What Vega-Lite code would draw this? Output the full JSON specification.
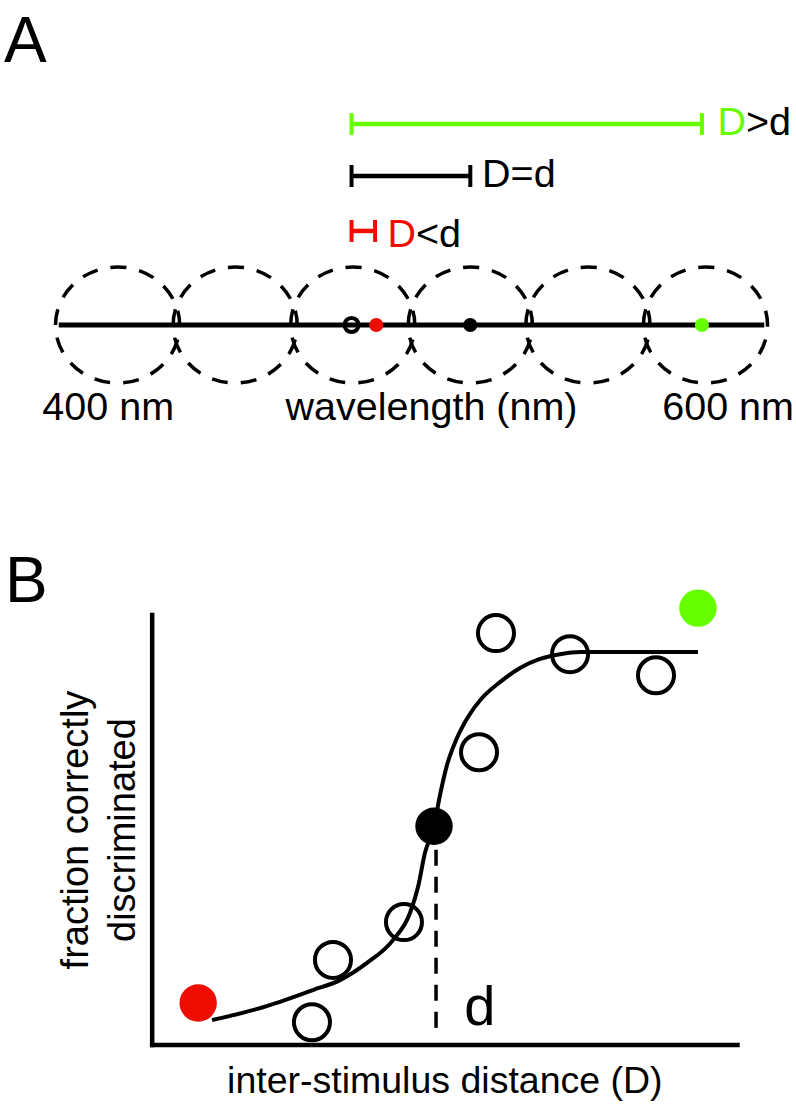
{
  "$schema": "https://vega.github.io/schema/vega-lite/v6.json",
  "padding": 0,
  "spacing": 0,
  "background": "white",
  "config": {"view": {"stroke": null}, "axis": {"disable": true}, "font": "Liberation Sans"},
  "datasets": {
    "aCircles": [{"u": 1, "v": 0}, {"u": 2, "v": 0}, {"u": 3, "v": 0}, {"u": 4, "v": 0}, {"u": 5, "v": 0}, {"u": 6, "v": 0}],
    "aAxis": [{"u1": 0.5, "u2": 6.5, "v": 0}],
    "aBars": [
      {"grp": "green", "u1": 2.99, "u2": 5.97, "v": 1.709},
      {"grp": "black", "u1": 2.99, "u2": 4.0, "v": 1.267},
      {"grp": "red", "u1": 2.99, "u2": 3.19, "v": 0.80}
    ],
    "aOpen": [{"u": 2.99, "v": 0}],
    "aDots": [{"grp": "red", "u": 3.2, "v": 0}, {"grp": "black", "u": 4.0, "v": 0}, {"grp": "green", "u": 5.97, "v": 0}],
    "aTextRight": [
      {"label": "D", "grp": "green", "u": 6.345, "v": 1.616},
      {"label": "D", "grp": "red", "u": 3.538, "v": 0.663},
      {"label": "600 nm", "grp": "black", "u": 6.753, "v": -0.808}
    ],
    "aTextLeft": [
      {"label": ">d", "u": 6.345, "v": 1.616},
      {"label": "D=d", "u": 4.1, "v": 1.174},
      {"label": "<d", "u": 3.538, "v": 0.663},
      {"label": "400 nm", "u": 0.36, "v": -0.808}
    ],
    "aTextCenter": [{"label": "wavelength (nm)", "u": 3.67, "v": -0.808}],
    "aTitle": [{"label": "A", "u": 0.034, "v": 2.237}],
    "bAxes": [{"x1": 0, "x2": 0, "y1": 0, "y2": 1}, {"x1": 0, "x2": 10, "y1": 0, "y2": 0}],
    "bCurve": [
      {"D": 1.022, "f": 0.058}, {"D": 1.893, "f": 0.088}, {"D": 2.747, "f": 0.128}, {"D": 3.209, "f": 0.151},
      {"D": 3.670, "f": 0.191}, {"D": 4.114, "f": 0.244}, {"D": 4.405, "f": 0.307}, {"D": 4.541, "f": 0.367},
      {"D": 4.661, "f": 0.447}, {"D": 4.815, "f": 0.509}, {"D": 4.917, "f": 0.581}, {"D": 5.037, "f": 0.651},
      {"D": 5.191, "f": 0.709}, {"D": 5.396, "f": 0.763}, {"D": 5.635, "f": 0.807}, {"D": 5.943, "f": 0.844},
      {"D": 6.285, "f": 0.877}, {"D": 6.627, "f": 0.898}, {"D": 6.968, "f": 0.909}, {"D": 7.310, "f": 0.914},
      {"D": 9.325, "f": 0.914}
    ],
    "bThreshold": [{"D": 4.85, "f1": 0.04, "f2": 0.47}],
    "bOpen": [
      {"D": 2.73, "f": 0.053}, {"D": 3.089, "f": 0.198}, {"D": 4.302, "f": 0.286}, {"D": 5.584, "f": 0.681},
      {"D": 5.874, "f": 0.958}, {"D": 7.139, "f": 0.909}, {"D": 8.608, "f": 0.860}
    ],
    "bDots": [{"grp": "red", "D": 0.786, "f": 0.098}, {"grp": "black", "D": 4.815, "f": 0.509}, {"grp": "green", "D": 9.325, "f": 1.016}],
    "bD": [{"label": "d", "D": 5.33, "f": 0.047}],
    "bTitle": [{"label": "B", "D": -2.515, "f": 1.03}],
    "bXTitle": [{"label": "inter-stimulus distance (D)", "D": 5.0, "f": -0.112}],
    "bYTitle": [{"label": "fraction correctly", "D": -1.097, "f": 0.5}, {"label": "discriminated", "D": -0.294, "f": 0.5}]
  },
  "vconcat": [
    {
      "width": 796,
      "height": 480,
      "layer": [
        {
          "data": {"name": "aCircles"},
          "mark": {"type": "point", "shape": "M -1.07 0 A 1.07 1 0 1 1 1.07 0 A 1.07 1 0 1 1 -1.07 0 Z", "filled": false, "size": 13456, "stroke": "black", "strokeWidth": 3.5, "strokeDash": [16, 13], "opacity": 1},
          "encoding": {
            "x": {"field": "u", "type": "quantitative", "scale": {"domain": [0, 6.77], "nice": false, "zero": false}},
            "y": {"field": "v", "type": "quantitative", "scale": {"domain": [-1.318, 2.764], "nice": false, "zero": false}}
          }
        },
        {
          "data": {"name": "aAxis"},
          "mark": {"type": "rule", "stroke": "black", "strokeWidth": 5},
          "encoding": {
            "x": {"field": "u1", "type": "quantitative", "scale": {"domain": [0, 6.77], "nice": false, "zero": false}},
            "x2": {"field": "u2"},
            "y": {"field": "v", "type": "quantitative", "scale": {"domain": [-1.318, 2.764], "nice": false, "zero": false}}
          }
        },
        {
          "data": {"name": "aBars"},
          "mark": {"type": "rule", "strokeWidth": 4.5},
          "encoding": {
            "x": {"field": "u1", "type": "quantitative", "scale": {"domain": [0, 6.77], "nice": false, "zero": false}},
            "x2": {"field": "u2"},
            "y": {"field": "v", "type": "quantitative", "scale": {"domain": [-1.318, 2.764], "nice": false, "zero": false}},
            "color": {"field": "grp", "type": "nominal", "scale": {"domain": ["black", "red", "green"], "range": ["#000000", "#ee0d00", "#66ff00"]}, "legend": null}
          }
        },
        {
          "data": {"name": "aBars"},
          "mark": {"type": "tick", "orient": "vertical", "size": 22, "thickness": 4, "opacity": 1},
          "encoding": {
            "x": {"field": "u1", "type": "quantitative", "scale": {"domain": [0, 6.77], "nice": false, "zero": false}},
            "y": {"field": "v", "type": "quantitative", "scale": {"domain": [-1.318, 2.764], "nice": false, "zero": false}},
            "color": {"field": "grp", "type": "nominal", "scale": {"domain": ["black", "red", "green"], "range": ["#000000", "#ee0d00", "#66ff00"]}, "legend": null}
          }
        },
        {
          "data": {"name": "aBars"},
          "mark": {"type": "tick", "orient": "vertical", "size": 22, "thickness": 4, "opacity": 1},
          "encoding": {
            "x": {"field": "u2", "type": "quantitative", "scale": {"domain": [0, 6.77], "nice": false, "zero": false}},
            "y": {"field": "v", "type": "quantitative", "scale": {"domain": [-1.318, 2.764], "nice": false, "zero": false}},
            "color": {"field": "grp", "type": "nominal", "scale": {"domain": ["black", "red", "green"], "range": ["#000000", "#ee0d00", "#66ff00"]}, "legend": null}
          }
        },
        {
          "data": {"name": "aOpen"},
          "mark": {"type": "point", "shape": "circle", "filled": false, "size": 200, "stroke": "black", "strokeWidth": 4, "opacity": 1},
          "encoding": {
            "x": {"field": "u", "type": "quantitative", "scale": {"domain": [0, 6.77], "nice": false, "zero": false}},
            "y": {"field": "v", "type": "quantitative", "scale": {"domain": [-1.318, 2.764], "nice": false, "zero": false}}
          }
        },
        {
          "data": {"name": "aDots"},
          "mark": {"type": "circle", "size": 200, "opacity": 1},
          "encoding": {
            "x": {"field": "u", "type": "quantitative", "scale": {"domain": [0, 6.77], "nice": false, "zero": false}},
            "y": {"field": "v", "type": "quantitative", "scale": {"domain": [-1.318, 2.764], "nice": false, "zero": false}},
            "color": {"field": "grp", "type": "nominal", "scale": {"domain": ["black", "red", "green"], "range": ["#000000", "#ee0d00", "#66ff00"]}, "legend": null}
          }
        },
        {
          "data": {"name": "aTextRight"},
          "mark": {"type": "text", "align": "right", "baseline": "alphabetic", "fontSize": 39.5},
          "encoding": {
            "x": {"field": "u", "type": "quantitative", "scale": {"domain": [0, 6.77], "nice": false, "zero": false}},
            "y": {"field": "v", "type": "quantitative", "scale": {"domain": [-1.318, 2.764], "nice": false, "zero": false}},
            "text": {"field": "label"},
            "color": {"field": "grp", "type": "nominal", "scale": {"domain": ["black", "red", "green"], "range": ["#000000", "#ee0d00", "#66ff00"]}, "legend": null}
          }
        },
        {
          "data": {"name": "aTextLeft"},
          "mark": {"type": "text", "align": "left", "baseline": "alphabetic", "fontSize": 39.5, "color": "black"},
          "encoding": {
            "x": {"field": "u", "type": "quantitative", "scale": {"domain": [0, 6.77], "nice": false, "zero": false}},
            "y": {"field": "v", "type": "quantitative", "scale": {"domain": [-1.318, 2.764], "nice": false, "zero": false}},
            "text": {"field": "label"}
          }
        },
        {
          "data": {"name": "aTextCenter"},
          "mark": {"type": "text", "align": "center", "baseline": "alphabetic", "fontSize": 39.5, "color": "black"},
          "encoding": {
            "x": {"field": "u", "type": "quantitative", "scale": {"domain": [0, 6.77], "nice": false, "zero": false}},
            "y": {"field": "v", "type": "quantitative", "scale": {"domain": [-1.318, 2.764], "nice": false, "zero": false}},
            "text": {"field": "label"}
          }
        },
        {
          "data": {"name": "aTitle"},
          "mark": {"type": "text", "align": "left", "baseline": "alphabetic", "fontSize": 64, "color": "black"},
          "encoding": {
            "x": {"field": "u", "type": "quantitative", "scale": {"domain": [0, 6.77], "nice": false, "zero": false}},
            "y": {"field": "v", "type": "quantitative", "scale": {"domain": [-1.318, 2.764], "nice": false, "zero": false}},
            "text": {"field": "label"}
          }
        }
      ]
    },
    {
      "width": 796,
      "height": 627,
      "layer": [
        {
          "data": {"name": "bAxes"},
          "mark": {"type": "rule", "stroke": "black", "strokeWidth": 4.5, "strokeCap": "square"},
          "encoding": {
            "x": {"field": "x1", "type": "quantitative", "scale": {"domain": [-2.6, 11], "nice": false, "zero": false}},
            "x2": {"field": "x2"},
            "y": {"field": "y1", "type": "quantitative", "scale": {"domain": [-0.144, 1.314], "nice": false, "zero": false}},
            "y2": {"field": "y2"}
          }
        },
        {
          "data": {"name": "bCurve"},
          "mark": {"type": "line", "stroke": "black", "strokeWidth": 4, "interpolate": "monotone"},
          "encoding": {
            "x": {"field": "D", "type": "quantitative", "scale": {"domain": [-2.6, 11], "nice": false, "zero": false}},
            "y": {"field": "f", "type": "quantitative", "scale": {"domain": [-0.144, 1.314], "nice": false, "zero": false}}
          }
        },
        {
          "data": {"name": "bThreshold"},
          "mark": {"type": "rule", "stroke": "black", "strokeWidth": 3.5, "strokeDash": [16, 11]},
          "encoding": {
            "x": {"field": "D", "type": "quantitative", "scale": {"domain": [-2.6, 11], "nice": false, "zero": false}},
            "y": {"field": "f1", "type": "quantitative", "scale": {"domain": [-0.144, 1.314], "nice": false, "zero": false}},
            "y2": {"field": "f2"}
          }
        },
        {
          "data": {"name": "bOpen"},
          "mark": {"type": "point", "shape": "circle", "filled": false, "size": 1300, "stroke": "black", "strokeWidth": 4, "opacity": 1},
          "encoding": {
            "x": {"field": "D", "type": "quantitative", "scale": {"domain": [-2.6, 11], "nice": false, "zero": false}},
            "y": {"field": "f", "type": "quantitative", "scale": {"domain": [-0.144, 1.314], "nice": false, "zero": false}}
          }
        },
        {
          "data": {"name": "bDots"},
          "mark": {"type": "circle", "size": 1400, "opacity": 1},
          "encoding": {
            "x": {"field": "D", "type": "quantitative", "scale": {"domain": [-2.6, 11], "nice": false, "zero": false}},
            "y": {"field": "f", "type": "quantitative", "scale": {"domain": [-0.144, 1.314], "nice": false, "zero": false}},
            "color": {"field": "grp", "type": "nominal", "scale": {"domain": ["black", "red", "green"], "range": ["#000000", "#ee0d00", "#66ff00"]}, "legend": null}
          }
        },
        {
          "data": {"name": "bD"},
          "mark": {"type": "text", "align": "left", "baseline": "alphabetic", "fontSize": 56, "color": "black"},
          "encoding": {
            "x": {"field": "D", "type": "quantitative", "scale": {"domain": [-2.6, 11], "nice": false, "zero": false}},
            "y": {"field": "f", "type": "quantitative", "scale": {"domain": [-0.144, 1.314], "nice": false, "zero": false}},
            "text": {"field": "label"}
          }
        },
        {
          "data": {"name": "bTitle"},
          "mark": {"type": "text", "align": "left", "baseline": "alphabetic", "fontSize": 64, "color": "black"},
          "encoding": {
            "x": {"field": "D", "type": "quantitative", "scale": {"domain": [-2.6, 11], "nice": false, "zero": false}},
            "y": {"field": "f", "type": "quantitative", "scale": {"domain": [-0.144, 1.314], "nice": false, "zero": false}},
            "text": {"field": "label"}
          }
        },
        {
          "data": {"name": "bXTitle"},
          "mark": {"type": "text", "align": "center", "baseline": "alphabetic", "fontSize": 37.5, "color": "black"},
          "encoding": {
            "x": {"field": "D", "type": "quantitative", "scale": {"domain": [-2.6, 11], "nice": false, "zero": false}},
            "y": {"field": "f", "type": "quantitative", "scale": {"domain": [-0.144, 1.314], "nice": false, "zero": false}},
            "text": {"field": "label"}
          }
        },
        {
          "data": {"name": "bYTitle"},
          "mark": {"type": "text", "align": "center", "baseline": "alphabetic", "fontSize": 38, "angle": 270, "color": "black"},
          "encoding": {
            "x": {"field": "D", "type": "quantitative", "scale": {"domain": [-2.6, 11], "nice": false, "zero": false}},
            "y": {"field": "f", "type": "quantitative", "scale": {"domain": [-0.144, 1.314], "nice": false, "zero": false}},
            "text": {"field": "label"}
          }
        }
      ]
    }
  ]
}
